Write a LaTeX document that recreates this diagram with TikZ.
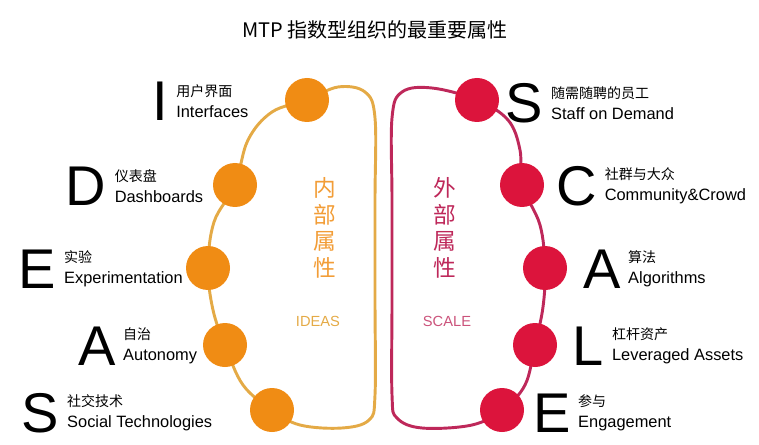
\documentclass[tikz,border=0pt]{standalone}
\usepackage{fontspec}
\setmainfont{Liberation Sans}
\newfontfamily\cjk{Noto Sans CJK SC}
\usetikzlibrary{positioning}
\definecolor{ideaOrange}{RGB}{240,140,20}
\definecolor{ideaLine}{RGB}{228,170,70}
\definecolor{scaleRed}{RGB}{220,20,60}
\definecolor{scaleLine}{RGB}{190,40,90}
\tikzset{
    % Dots on the brain
    ideaDot/.style={
        circle,
        fill=ideaOrange,
        draw=none,
        minimum size=33
    },
    scaleDot/.style={
        ideaDot,
        fill=scaleRed
    },
    % Letters and their labels
    bigLetter/.style={
        font=\fontsize{42}{42}\selectfont,
        inner sep=0pt
    },
    itemName/.style={
        align=left,
        inner sep=0pt,
        font=\fontsize{12.3}{16}\selectfont
    },
    sideName/.style={
        align=center,
        inner sep=0pt,
        font=\cjk\fontsize{17}{20}\selectfont
    }
}
\newcommand{\itemText}[2]{{\cjk\fontsize{10.5}{12}\selectfont #1}\\#2}

\begin{document}
\begin{tikzpicture}[x=0.75pt,y=-0.75pt]
    \useasboundingbox (0,0) rectangle (759,445);

    \node[font=\cjk\fontsize{15}{15}\selectfont] (title) at (375,30) {MTP 指数型组织的最重要属性};

    % left brain
    \draw[ideaLine, line width=2.2] plot[smooth cycle, tension=0.6] coordinates {
        (375,200) (375,118) (365,92) (338,87) (307,100) (272,112) (248,140)
        (235,185) (214,222) (208,268) (213,310) (225,345) (243,385) (272,410)
        (300,425) (342,428) (369,420) (375,395) (375,300)};
    % right brain
    \draw[scaleLine, line width=2.2] plot[smooth cycle, tension=0.6] coordinates {
        (392,200) (392,118) (402,92) (432,88) (477,100) (508,120) (520,150)
        (522,185) (540,225) (545,268) (543,307) (535,345) (525,385) (502,410)
        (472,425) (422,428) (397,418) (392,395) (392,300)};

    \node[ideaDot] (i1) at (307,100) {};
    \node[ideaDot] (i2) at (235,185) {};
    \node[ideaDot] (i3) at (208,268) {};
    \node[ideaDot] (i4) at (225,345) {};
    \node[ideaDot] (i5) at (272,410) {};
    \node[scaleDot] (s1) at (477,100) {};
    \node[scaleDot] (s2) at (522,185) {};
    \node[scaleDot] (s3) at (545,268) {};
    \node[scaleDot] (s4) at (535,345) {};
    \node[scaleDot] (s5) at (502,410) {};

    \node[sideName, text=ideaOrange!85] (inner) at (325,228) {内\\部\\属\\性};
    \node[font=\fontsize{11}{11}\selectfont, text=ideaLine] (ideas) at (318,321) {IDEAS};
    \node[sideName, text=scaleLine] (outer) at (445,228) {外\\部\\属\\性};
    \node[font=\fontsize{11}{11}\selectfont, text=scaleLine!80] (scale) at (447,321) {SCALE};

    % left items
    \node[bigLetter] (lI) at (160,101) {I};
    \node[itemName, right=8 of lI] (tI) {\itemText{用户界面}{Interfaces}};
    \node[bigLetter] (lD) at (86,186) {D};
    \node[itemName, right=8 of lD] (tD) {\itemText{仪表盘}{Dashboards}};
    \node[bigLetter] (lE) at (37,269) {E};
    \node[itemName, right=8 of lE] (tE) {\itemText{实验}{Experimentation}};
    \node[bigLetter] (lA) at (97,346) {A};
    \node[itemName, right=7 of lA] (tA) {\itemText{自治}{Autonomy}};
    \node[bigLetter] (lS) at (40,413) {S};
    \node[itemName, right=8 of lS] (tS) {\itemText{社交技术}{Social Technologies}};

    % right items
    \node[bigLetter] (rS) at (524,103) {S};
    \node[itemName, right=8 of rS] (uS) {\itemText{随需随聘的员工}{Staff on Demand}};
    \node[bigLetter] (rC) at (577,186) {C};
    \node[itemName, right=7 of rC] (uC) {\itemText{社群与大众}{Community\&Crowd}};
    \node[bigLetter] (rA) at (602,269) {A};
    \node[itemName, right=7 of rA] (uA) {\itemText{算法}{Algorithms}};
    \node[bigLetter] (rL) at (588,346) {L};
    \node[itemName, right=8 of rL] (uL) {\itemText{杠杆资产}{Leveraged Assets}};
    \node[bigLetter] (rE) at (552,413) {E};
    \node[itemName, right=7 of rE] (uE) {\itemText{参与}{Engagement}};
\end{tikzpicture}
\end{document}
